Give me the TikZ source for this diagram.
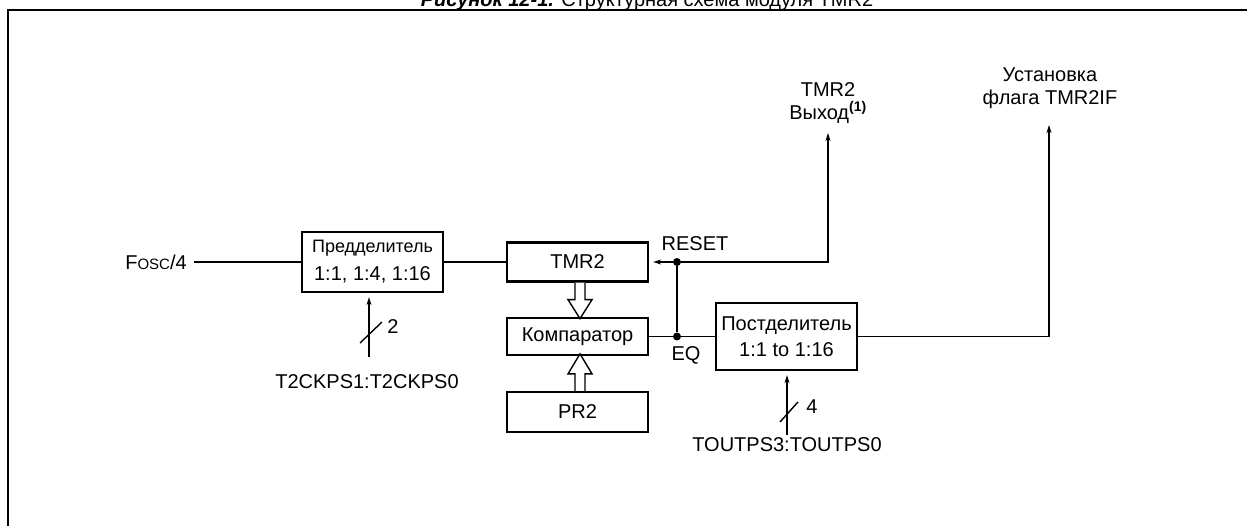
\documentclass[tikz,border=0pt]{standalone}
\usepackage{fontspec}
\setmainfont{Liberation Sans}
\usetikzlibrary{arrows.meta}

\begin{document}
\begin{tikzpicture}[x=1pt, y=-1pt,
    font=\fontsize{20}{23}\selectfont,
    box/.style={rectangle, draw, line width=2.3pt, minimum width=141pt,
                inner sep=0pt, align=center},
    lbl/.style={inner sep=1pt, align=center},
    thinwire/.style={line width=1.4pt},
    buswire/.style={line width=2.6pt},
    tip/.style={-{Stealth[length=8pt, width=5pt]}, shorten >=4pt},
    dot/.style={circle, fill, inner sep=0pt, minimum size=8pt},
    hollow/.style={draw, line width=1.4pt, fill=white}]

\useasboundingbox (0,0) rectangle (1247,526);

\node[anchor=base, inner sep=0pt] (title) at (647,7)
    {\textbf{\textit{Рисунок 12-1.}} Структурная схема модуля TMR2};
\draw[line width=2.6pt] (8,530) -- (8,10) -- (1250,10);

\node[box, minimum height=60pt] (pre) at (372.5,262)
    {{\fontsize{18}{20}\selectfont Предделитель}\\[5pt]1:1, 1:4, 1:16};
\node[box, minimum height=39pt] (tmr) at (577.5,262) {TMR2};
\node[box, minimum height=37pt] (cmp) at (577.5,336.5) {Компаратор};
\node[box, minimum height=40pt] (pr2) at (577.5,412) {PR2};
\node[box, minimum height=67pt] (post) at (786.5,336.5)
    {Постделитель\\[3pt]1:1 to 1:16};

\node[lbl] (fosc) at (156,262) {F{\fontsize{15}{17}\selectfont OSC}/4};
\node[lbl] (t2ck) at (367,382) {T2CKPS1:T2CKPS0};
\node[lbl] (tout) at (787,445) {TOUTPS3:TOUTPS0};
\node[lbl] (rst) at (695,244) {RESET};
\node[lbl] (eq) at (686,355) {EQ};
\node[lbl] (n2) at (393,327) {2};
\node[lbl] (n4) at (812,407) {4};
\node[lbl] (outlbl) at (828,103) {TMR2\\Выход\textsuperscript{\textbf{(1)}}};
\node[lbl] (flaglbl) at (1050,88) {Установка\\флага TMR2IF};

\node[dot] (j1) at (677,262) {};
\node[dot] (j2) at (677,336.5) {};
\coordinate (outtip) at (828,133);
\coordinate (flagtip) at (1049,125);
\coordinate (t2in) at (369,357);
\coordinate (tpin) at (787,435);

\draw[thinwire, shorten <=6pt] (fosc) -- (pre);
\draw[buswire] (pre) -- (tmr);
\draw[thinwire] (cmp) -- (post);
\draw[buswire] (j2) -- (j1);
\draw[buswire, tip] (j1) -- (tmr);
\draw[buswire, tip, shorten >=0pt] (j1) -| (outtip);
\draw[thinwire, tip, shorten >=0pt] (post) -| (flagtip);
\draw[buswire, tip] (t2in) -- (t2in |- pre.south);
\draw[buswire, tip] (tpin) -- (tpin |- post.south);
\draw[thinwire] (360,343) -- (382,322);
\draw[thinwire] (780,422) -- (798,402);

\draw[hollow] ([xshift=-2.5pt]tmr.south) -- ++(0,17) -- ++(-7,0) -- ++(12,19)
    -- ++(12,-19) -- ++(-7,0) -- ++(0,-17);
\draw[hollow] ([xshift=-2.5pt]pr2.north) -- ++(0,-17) -- ++(-7,0) -- ++(12,-20)
    -- ++(12,20) -- ++(-7,0) -- ++(0,17);
\end{tikzpicture}
\end{document}
